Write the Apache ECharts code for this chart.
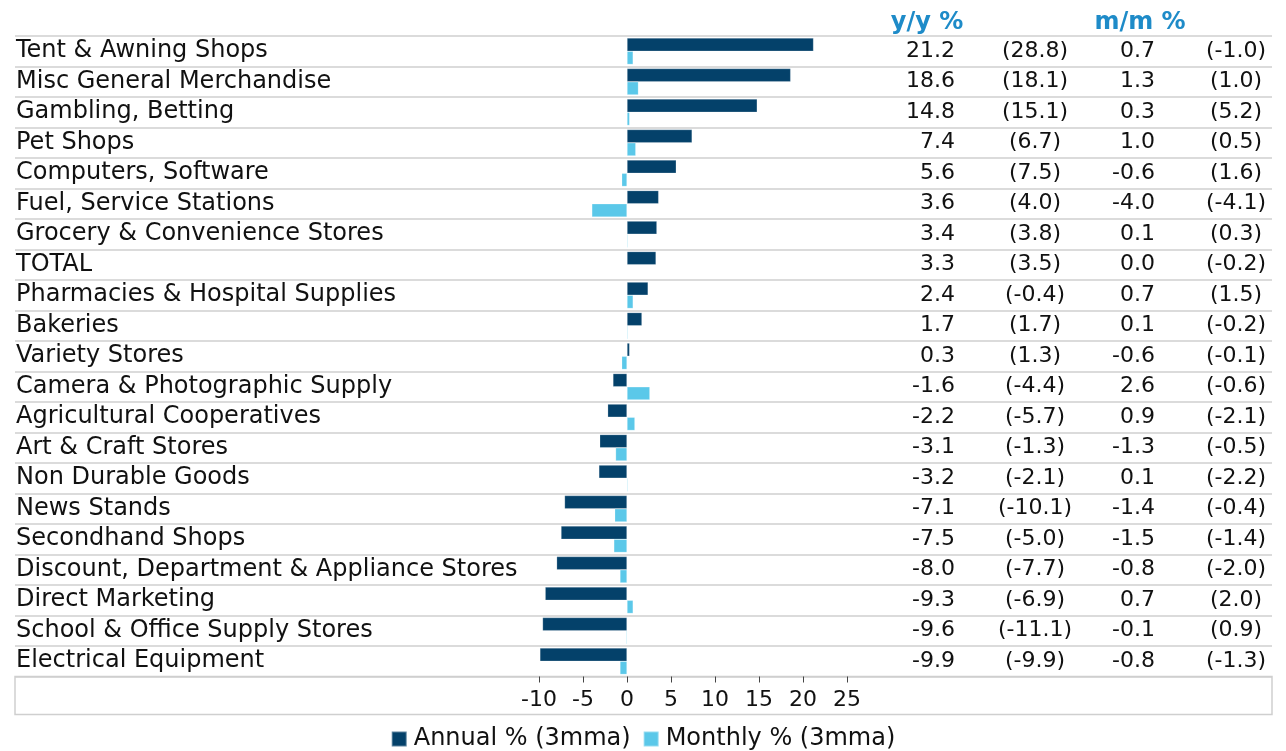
<!DOCTYPE html>
<html>
<head>
<meta charset="utf-8">
<script src="https://cdn.jsdelivr.net/npm/echarts@6/dist/echarts.min.js"></script>
<style>
  html, body { margin: 0; padding: 0; background: #fff; }
  #chart { width: 1286px; height: 751px; }
</style>
</head>
<body>
<div id="chart"></div>
<script>
const categories = [
  'Tent & Awning Shops', 'Misc General Merchandise', 'Gambling, Betting', 'Pet Shops',
  'Computers, Software', 'Fuel, Service Stations', 'Grocery & Convenience Stores', 'TOTAL',
  'Pharmacies & Hospital Supplies', 'Bakeries', 'Variety Stores', 'Camera & Photographic Supply',
  'Agricultural Cooperatives', 'Art & Craft Stores', 'Non Durable Goods', 'News Stands',
  'Secondhand Shops', 'Discount, Department & Appliance Stores', 'Direct Marketing',
  'School & Office Supply Stores', 'Electrical Equipment'
];
// y/y % (annual, 3mma) and the previous reading in brackets
const annual = [21.2, 18.6, 14.8, 7.4, 5.6, 3.6, 3.4, 3.3, 2.4, 1.7, 0.3, -1.6, -2.2, -3.1, -3.2, -7.1, -7.5, -8.0, -9.3, -9.6, -9.9];
const annualPrev = [28.8, 18.1, 15.1, 6.7, 7.5, 4.0, 3.8, 3.5, -0.4, 1.7, 1.3, -4.4, -5.7, -1.3, -2.1, -10.1, -5.0, -7.7, -6.9, -11.1, -9.9];
// m/m % (monthly, 3mma) and the previous reading in brackets
const monthly = [0.7, 1.3, 0.3, 1.0, -0.6, -4.0, 0.1, 0.0, 0.7, 0.1, -0.6, 2.6, 0.9, -1.3, 0.1, -1.4, -1.5, -0.8, 0.7, -0.1, -0.8];
const monthlyPrev = [-1.0, 1.0, 5.2, 0.5, 1.6, -4.1, 0.3, -0.2, 1.5, -0.2, -0.1, -0.6, -2.1, -0.5, -2.2, -0.4, -1.4, -2.0, 2.0, 0.9, -1.3];
const xTicks = [-10, -5, 0, 5, 10, 15, 20, 25];

const FONT = 'DejaVu Sans';
const FS = 22;      // numbers
const FS_TXT = 24;  // words (the original face runs wider)
const LINE = '#cfcfcf';
const DARK = '#04416a';
const LIGHT = '#5bc8e9';
const BLUE = '#1e8bc8';

const fmt = v => v.toFixed(1);
const br = v => '(' + v.toFixed(1) + ')';

// grid spans 15..1272, zero sits at x=627 with 8.8px per unit
const gridLeft = 15, gridRight = 1272;
const zeroX = 627, pxPerUnit = 8.8;

function columnAxis(values, f, x, align) {
  return {
    type: 'category', gridIndex: 0, inverse: true, position: 'left',
    offset: -(x - gridLeft),
    data: values.map(f),
    axisLine: { show: false }, axisTick: { show: false }, splitLine: { show: false },
    axisLabel: { interval: 0, margin: 0, align: align, padding: [2, 0, 0, 0],
      color: '#111', fontFamily: FONT, fontSize: FS }
  };
}

const chart = echarts.init(document.getElementById('chart'));
chart.setOption({
  animation: false,
  title: [
    { text: 'y/y %', left: 922, top: 6, textAlign: 'center',
      textStyle: { color: BLUE, fontFamily: FONT, fontSize: FS_TXT, fontWeight: 'bold' } },
    { text: 'm/m %', left: 1135, top: 6, textAlign: 'center',
      textStyle: { color: BLUE, fontFamily: FONT, fontSize: FS_TXT, fontWeight: 'bold' } }
  ],
  legend: {
    top: 722, left: 'center', icon: 'rect', itemWidth: 15, itemHeight: 15, itemGap: 12,
    textStyle: { fontFamily: FONT, fontSize: FS_TXT, color: '#111', padding: [0, 0, 0, 2] },
    data: ['Annual % (3mma)', 'Monthly % (3mma)']
  },
  grid: [
    { left: gridLeft, right: 1286 - gridRight, top: 36, height: 640.5 },
    { left: gridLeft, right: 1286 - gridRight, top: 676.5, height: 38, show: true,
      borderColor: LINE, borderWidth: 1.5, backgroundColor: 'transparent' }
  ],
  xAxis: [
    {
      type: 'value', gridIndex: 0,
      min: -(zeroX - gridLeft) / pxPerUnit, max: (gridRight - zeroX) / pxPerUnit,
      axisLine: { show: false }, splitLine: { show: false },
      axisTick: { show: true, customValues: xTicks, length: 6, lineStyle: { color: '#444' } },
      axisLabel: { customValues: xTicks, margin: 13, color: '#111', fontFamily: FONT, fontSize: FS }
    },
    { type: 'value', gridIndex: 1, show: false }
  ],
  yAxis: [
    {
      type: 'category', gridIndex: 0, inverse: true, data: categories,
      axisLine: { show: false }, axisTick: { show: false, interval: 0 },
      splitLine: { show: true, interval: 0, lineStyle: { color: LINE, width: 1.5 } },
      axisLabel: { interval: 0, inside: true, margin: 1, padding: [3, 0, 0, 0],
        color: '#111', fontFamily: FONT, fontSize: FS_TXT }
    },
    columnAxis(annual, fmt, 955, 'right'),
    columnAxis(annualPrev, br, 1035, 'center'),
    columnAxis(monthly, fmt, 1155, 'right'),
    columnAxis(monthlyPrev, br, 1236, 'center'),
    { type: 'category', gridIndex: 1, show: false, data: [''] }
  ],
  series: [
    {
      name: 'Annual % (3mma)', type: 'bar', xAxisIndex: 0, yAxisIndex: 0,
      data: annual, barWidth: 13.2, barGap: '0%',
      itemStyle: { color: DARK, borderColor: 'rgba(255,255,255,0.35)', borderWidth: 0.6 }
    },
    {
      name: 'Monthly % (3mma)', type: 'bar', xAxisIndex: 0, yAxisIndex: 0,
      data: monthly, barWidth: 13.2, barGap: '0%',
      itemStyle: { color: LIGHT, borderColor: 'rgba(255,255,255,0.35)', borderWidth: 0.6 }
    }
  ]
});
</script>
</body>
</html>
